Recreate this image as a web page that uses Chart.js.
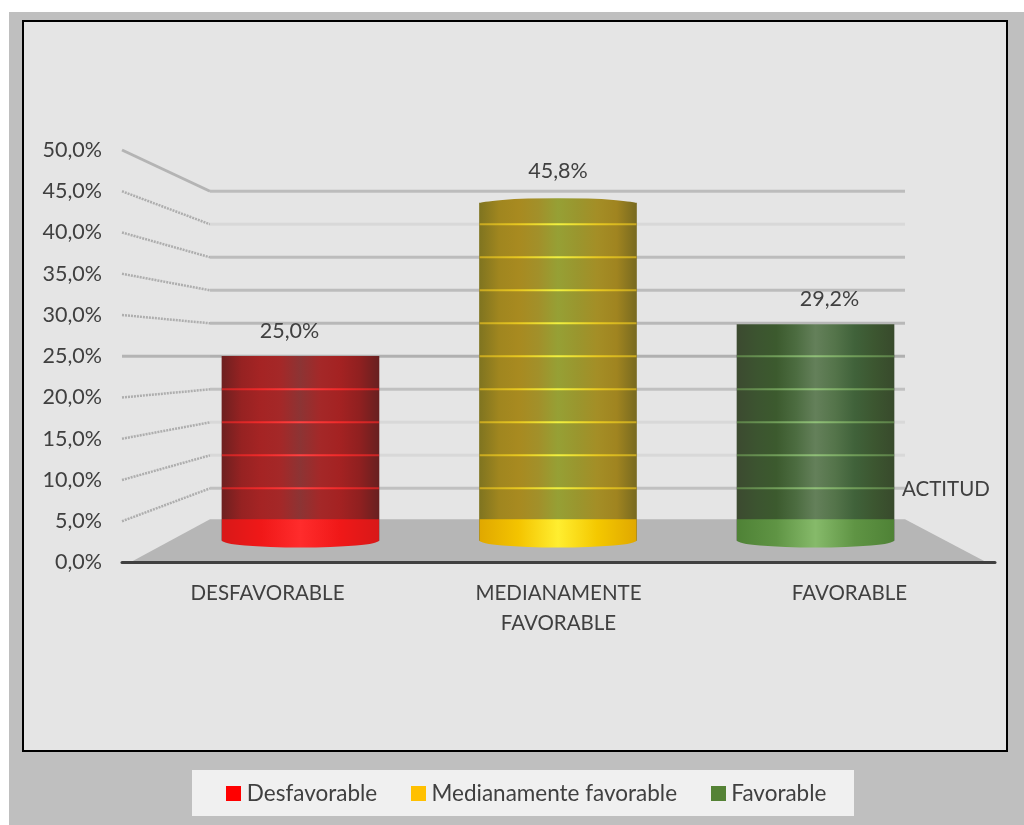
<!DOCTYPE html>
<html>
<head>
<meta charset="utf-8">
<title>Actitud</title>
<script src="https://cdn.jsdelivr.net/npm/chart.js@4"></script>
<style>
    html, body { margin: 0; padding: 0; background: #fff; }
    canvas { display: block; }
</style>
</head>
<body>
<canvas id="myChart" width="1024" height="825"></canvas>
<script>
const categories = ["DESFAVORABLE", ["MEDIANAMENTE", "FAVORABLE"], "FAVORABLE"];
const legendNames = ["Desfavorable", "Medianamente favorable", "Favorable"];
const legendColors = ["#ff0000", "#ffc000", "#548235"];
// printed labels, and the bar tops as read against the back wall gridlines
// (the picture draws the middle bar taller than its printed 45,8%)
const printedLabels = ["25,0%", "45,8%", "29,2%"];
const barTops = [25.0, 48.2, 29.8];
const tickValues = [0, 5, 10, 15, 20, 25, 30, 35, 40, 45, 50];
const axisName = "ACTITUD";

const textColor = "#404040";
const fontName = "Lato";
const wallLeft = 210, wallRight = 905;
const barBase = -2.9;
const labelShift = [-11, 0, 14];
const labelLift = [25, 32, 26];
const domeHeight = [0, 6, 0];
const bodyStops = [
    ["#6e2020", "#962222", "#a52424", "#a42828", "#8c3434", "#a42828", "#a42222", "#902020", "#682020"],
    ["#7f7420", "#a0861f", "#a88a20", "#a2902a", "#96a035", "#9a962e", "#a48e26", "#a08420", "#786a20"],
    ["#3c4a30", "#3c5430", "#3c5a2e", "#4c6c40", "#64805a", "#54744a", "#40623a", "#3c5630", "#384a2c"]
];
const brightStops = [
    ["#d81818", "#f01818", "#ff2c2c", "#f01818", "#d81818"],
    ["#e0a800", "#f4c400", "#ffee30", "#f4c800", "#e0a800"],
    ["#4f8236", "#5f9444", "#86ba6a", "#5f9444", "#4f8236"]
];
const stripeStops = [
    ["#c82424", "#f02a2a", "#ff4040", "#f02a2a", "#c82424"],
    ["#c8a820", "#e8c820", "#f0f040", "#e8c820", "#c8a820"],
    ["#5c8048", "#6f9c58", "#90c078", "#6f9c58", "#5c8048"]
];
const lineColors = ["#bcbcbc", "#c0c0c0", "#d8d8d8", "#d8d8d8", "#c0c0c0", "#b0b0b0", "#b8b8b8", "#bcbcbc", "#bcbcbc", "#d8d8d8", "#bcbcbc"];

function hGradient(ctx, left, right, stops) {
    const g = ctx.createLinearGradient(left, 0, right, 0);
    stops.forEach(function (c, i) { g.addColorStop(i / (stops.length - 1), c); });
    return g;
}

// legend swatches: wider than the point slot, so the text sits close to them
function swatch(color) {
    const c = document.createElement("canvas");
    c.width = 15;
    c.height = 15;
    const g = c.getContext("2d");
    g.fillStyle = color;
    g.fillRect(0, 0, 15, 15);
    return c;
}

const wallPlugin = {
    id: "wall",
    afterLayout: function (chart) {
        // the white legend box is centred right of the plot's own centre
        chart.legend.left += 20.5;
        chart.legend.right += 20.5;
    },
    beforeDraw: function (chart) {
        const ctx = chart.ctx;
        ctx.save();
        ctx.fillStyle = "#fff";
        ctx.fillRect(0, 0, 1024, 825);
        ctx.fillStyle = "#bfbfbf";
        ctx.fillRect(9, 12, 1015, 813);
        ctx.fillStyle = "#e5e5e5";
        ctx.fillRect(23, 21, 984, 730);
        ctx.strokeStyle = "#000";
        ctx.lineWidth = 2;
        ctx.strokeRect(23, 21, 984, 730);
        ctx.fillStyle = "#f0f0f0";
        ctx.fillRect(192, 770, 662, 46);
        ctx.restore();
    },
    beforeDatasetsDraw: function (chart) {
        const ctx = chart.ctx, area = chart.chartArea;
        const front = chart.scales.y, back = chart.scales.y2;
        ctx.save();
        // floor
        ctx.fillStyle = "#b6b6b6";
        ctx.beginPath();
        ctx.moveTo(area.left + 8, front.getPixelForValue(0));
        ctx.lineTo(wallLeft, back.getPixelForValue(0) - 2);
        ctx.lineTo(wallRight, back.getPixelForValue(0) - 2);
        ctx.lineTo(area.right - 8, front.getPixelForValue(0));
        ctx.closePath();
        ctx.fill();
        // gridlines, skipping the floor level
        tickValues.forEach(function (v, i) {
            if (v === 0) return;
            const yf = front.getPixelForValue(v), yb = back.getPixelForValue(v);
            ctx.strokeStyle = v === 25 || v === 50 ? "#b4b4b4" : "#aeaeae";
            ctx.lineWidth = v === 25 || v === 50 ? 3 : 2.5;
            ctx.setLineDash(v === 50 || v === 25 ? [] : [2, 1]);
            ctx.beginPath();
            ctx.moveTo(area.left, yf);
            ctx.lineTo(wallLeft, yb);
            ctx.stroke();
            ctx.setLineDash([]);
            ctx.strokeStyle = lineColors[i];
            ctx.lineWidth = 3;
            ctx.beginPath();
            ctx.moveTo(wallLeft, yb);
            ctx.lineTo(wallRight, yb);
            ctx.stroke();
        });
        ctx.restore();
    },
    afterDatasetsDraw: function (chart) {
        const ctx = chart.ctx, area = chart.chartArea;
        const front = chart.scales.y, back = chart.scales.y2;
        const bars = chart.getDatasetMeta(0).data;
        ctx.save();
        bars.forEach(function (bar, i) {
            const left = bar.x - bar.width / 2, right = bar.x + bar.width / 2;
            const floorY = back.getPixelForValue(0) - 2;
            // domed top
            if (domeHeight[i] > 0) {
                ctx.fillStyle = hGradient(ctx, left, right, bodyStops[i]);
                ctx.beginPath();
                ctx.ellipse(bar.x, bar.y + 1, bar.width / 2, domeHeight[i], 0, Math.PI, 2 * Math.PI);
                ctx.fill();
            }
            // part standing on the floor, with rounded bottom
            ctx.fillStyle = hGradient(ctx, left, right, brightStops[i]);
            ctx.beginPath();
            ctx.moveTo(left, floorY);
            ctx.lineTo(right, floorY);
            ctx.lineTo(right, bar.base);
            ctx.ellipse(bar.x, bar.base, bar.width / 2, 7, 0, 0, Math.PI);
            ctx.closePath();
            ctx.fill();
            // gridlines shining through the bar
            ctx.strokeStyle = hGradient(ctx, left, right, stripeStops[i]);
            ctx.lineWidth = 2;
            tickValues.forEach(function (v) {
                const y = back.getPixelForValue(v);
                if (v === 0 || y <= bar.y + 4) return;
                ctx.beginPath();
                ctx.moveTo(left, y);
                ctx.lineTo(right, y);
                ctx.stroke();
            });
            // printed value
            ctx.fillStyle = textColor;
            ctx.font = "21.5px " + fontName;
            ctx.textAlign = "center";
            ctx.textBaseline = "middle";
            ctx.fillText(printedLabels[i], bar.x + labelShift[i], bar.y - labelLift[i]);
        });
        // front edge
        const y0 = front.getPixelForValue(0);
        ctx.strokeStyle = "#404040";
        ctx.lineWidth = 3;
        ctx.lineCap = "round";
        ctx.beginPath();
        ctx.moveTo(area.left, y0);
        ctx.lineTo(area.right, y0);
        ctx.stroke();
        // axis name
        ctx.fillStyle = textColor;
        ctx.font = "20.5px " + fontName;
        ctx.textAlign = "left";
        ctx.textBaseline = "middle";
        ctx.fillText(axisName, wallRight - 3, back.getPixelForValue(5) + 1);
        ctx.restore();
    }
};

new Chart("myChart", {
    type: "bar",
    plugins: [wallPlugin],
    data: {
        labels: categories,
        datasets: [{
            xAxisID: "x2",
            yAxisID: "y2",
            base: barBase,
            barThickness: 157,
            borderWidth: 0,
            data: barTops.map(function (v, i) { return { x: i, y: v }; }),
            backgroundColor: function (context) {
                const scale = context.chart.scales.x2;
                if (!scale) return "#888";
                const cx = scale.getPixelForValue(context.dataIndex);
                return hGradient(context.chart.ctx, cx - 78.5, cx + 78.5, bodyStops[context.dataIndex]);
            }
        }]
    },
    options: {
        responsive: false,
        animation: false,
        layout: { padding: { left: 22, right: 29, top: 150, bottom: 10.5 } },
        plugins: {
            tooltip: { enabled: false },
            title: { display: false },
            legend: {
                position: "bottom",
                labels: {
                    usePointStyle: true,
                    pointStyleWidth: 4,
                    boxHeight: 15,
                    padding: 39,
                    color: textColor,
                    font: { family: fontName, size: 22.5 },
                    generateLabels: function () {
                        return legendNames.map(function (name, i) {
                            return { text: name, pointStyle: swatch(legendColors[i]), fillStyle: legendColors[i], strokeStyle: legendColors[i], lineWidth: 0, index: i, fontColor: textColor };
                        });
                    }
                }
            }
        },
        scales: {
            x: {
                type: "category",
                offset: true,
                grid: { display: false },
                border: { display: false },
                afterFit: function (scale) { scale.height = 180.5; },
                ticks: {
                    padding: 8,
                    maxRotation: 0,
                    autoSkip: false,
                    color: textColor,
                    font: { family: fontName, size: 20.5, lineHeight: 1.46 }
                }
            },
            y: {
                min: 0,
                max: 50,
                grid: { display: false },
                border: { display: false },
                afterFit: function (scale) { scale.width = 100; },
                ticks: {
                    stepSize: 5,
                    padding: 12,
                    color: textColor,
                    font: { family: fontName, size: 21.5 },
                    callback: function (v) { return v.toFixed(1).replace(".", ",") + "%"; }
                }
            },
            x2: { type: "linear", display: false, offset: false, min: -0.693, max: 2.697 },
            y2: { type: "linear", display: false, min: -6.233, max: 56.25 }
        }
    }
});
</script>
</body>
</html>
